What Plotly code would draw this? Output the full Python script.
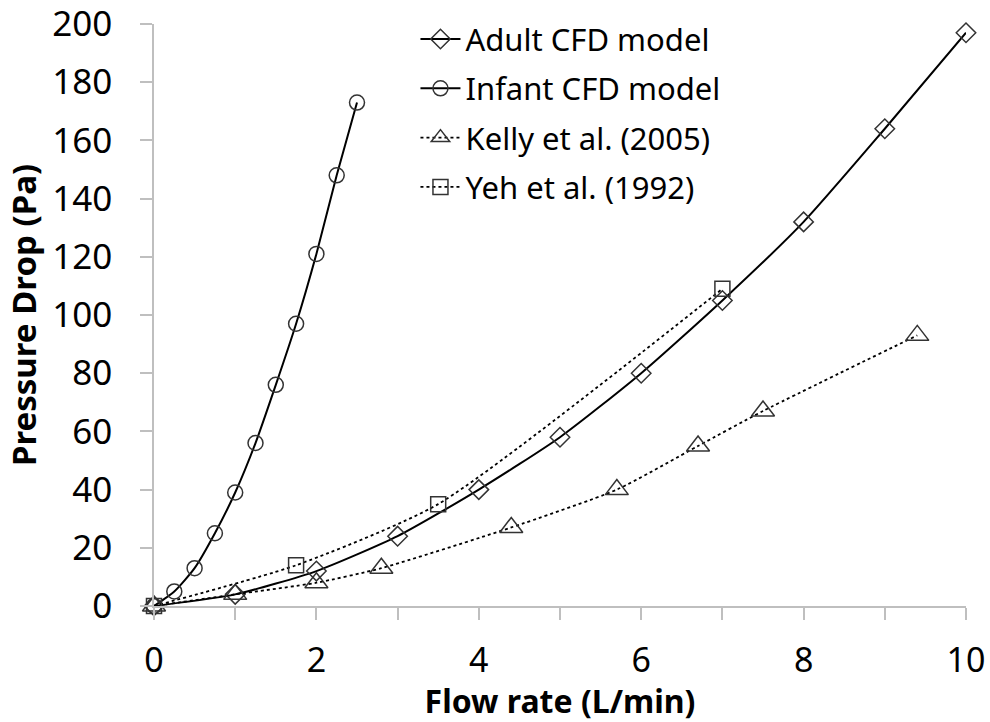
import plotly.graph_objects as go

adult_x = [0, 1, 2, 3, 4, 5, 6, 7, 8, 9, 10]
adult_y = [0, 4, 12, 24, 40, 58, 80, 105, 132, 164, 197]

infant_x = [0, 0.25, 0.5, 0.75, 1.0, 1.25, 1.5, 1.75, 2.0, 2.25, 2.5]
infant_y = [0, 5, 13, 25, 39, 56, 76, 97, 121, 148, 173]

kelly_x = [0, 1.0, 2.0, 2.8, 4.4, 5.7, 6.7, 7.5, 9.4]
kelly_y = [0, 4, 8, 13, 27, 40, 55, 67, 93]

yeh_x = [0, 1.75, 3.5, 7.0]
yeh_y = [0, 14, 35, 109]

FONT = "Noto Sans"
fig = go.Figure()

def add(name, x, y, symbol, dash, size, width):
    fig.add_trace(go.Scatter(
        x=x, y=y, name=name, mode="lines+markers", legendgroup=name,
        line=dict(color="black", width=width, dash=dash, shape="spline", smoothing=0.6),
        marker=dict(symbol=symbol, size=size, color="#333333",
                    line=dict(color="#333333", width=1.5)),
        cliponaxis=False,
    ))

add("Adult CFD model", adult_x, adult_y, "diamond-open", "solid", 15, 2)
add("Infant CFD model", infant_x, infant_y, "circle-open", "solid", 15, 2)
add("Kelly et al. (2005)", kelly_x, kelly_y, "triangle-up-open", "dot", 20, 1.8)
add("Yeh et al. (1992)", yeh_x, yeh_y, "square-open", "dot", 15, 1.8)

fig.update_layout(
    width=990, height=722,
    margin=dict(l=154, r=24, t=22, b=116),
    paper_bgcolor="white", plot_bgcolor="white",
    font=dict(family=FONT, color="black"),
    showlegend=True,
    legend=dict(x=0.322, y=1.02, xanchor="left", yanchor="top",
                font=dict(size=31, family=FONT, color="black"),
                tracegroupgap=6, bgcolor="rgba(0,0,0,0)", itemwidth=40),
    xaxis=dict(range=[0, 10], dtick=2, tick0=0, showgrid=False, zeroline=False,
               automargin=False, ticklabeloverflow="allow",
               showline=True, linecolor="#bfbfbf", linewidth=1.5,
               ticks="outside", ticklen=12, tickcolor="#bfbfbf", tickwidth=1.5,
               ticklabelstandoff=11,
               tickfont=dict(size=34, family=FONT),
               minor=dict(dtick=1, ticks="outside", ticklen=12, tickcolor="#bfbfbf", tickwidth=1.5),
               title=dict(text="<b>Flow rate (L/min)</b>", font=dict(size=32, family=FONT), standoff=4)),
    yaxis=dict(range=[0, 200], dtick=20, showgrid=False, zeroline=False,
               automargin=False, ticklabeloverflow="allow",
               showline=True, linecolor="#bfbfbf", linewidth=1.5,
               ticks="outside", ticklen=12, tickcolor="#bfbfbf", tickwidth=1.5,
               ticklabelstandoff=21,
               tickfont=dict(size=35, family=FONT),
               title=dict(text="<b>Pressure Drop (Pa)</b>", font=dict(size=33, family=FONT), standoff=6)),
)

fig.write_html("out.html")
